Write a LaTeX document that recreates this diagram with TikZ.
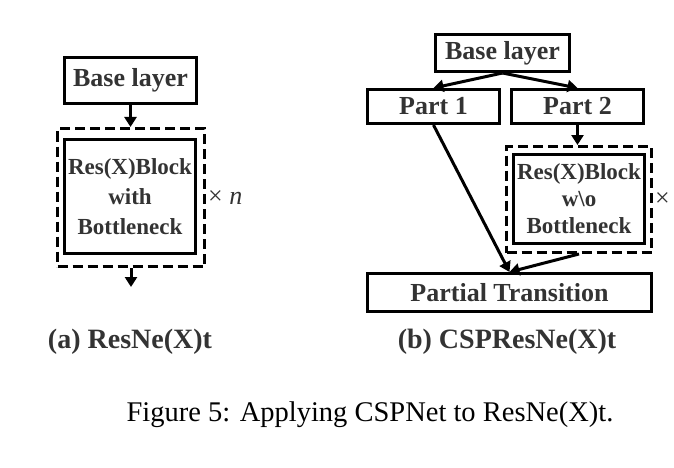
\documentclass[tikz,border=0pt]{standalone}
\usepackage{fontspec}
\setmainfont{Liberation Serif}
\usetikzlibrary{arrows.meta, positioning}
\definecolor{txtgray}{HTML}{333333}
\newcommand{\boxfont}{\fontsize{26}{30}\selectfont\bfseries}
\newcommand{\blockfont}[1]{\fontsize{23}{#1}\selectfont\bfseries}

\begin{document}
\begin{tikzpicture}[x=1pt, y=-1pt,
    layer/.style={draw, line width=3pt, inner sep=0pt, align=center,
        text=txtgray, font=\boxfont},
    repeatbox/.style={draw, line width=3pt, dash pattern=on 10pt off 5pt,
        inner sep=0pt},
    flow/.style={line width=3pt, -{Triangle[length=10pt,width=12pt]}},
    times/.style={inner sep=0pt, text=txtgray, font=\fontsize{26}{30}\selectfont},
    subcap/.style={text=txtgray, font=\fontsize{28}{32}\selectfont\bfseries},
]
\clip (0,0) rectangle (674,468);

% (a) ResNe(X)t
\node (baseA) [layer, minimum width=132pt, minimum height=46pt] at (130.5,80.5) {Base layer};
\node (blockA) [layer, minimum width=131pt, minimum height=114pt, font=\blockfont{30}]
    at (130,196.5) {Res(X)Block\\with\\Bottleneck};
\node (dashA) [repeatbox, minimum width=147pt, minimum height=138pt] at (131,197.5) {};
\node (timesA) [times, right=2pt of dashA] {× \textit{n}};
\coordinate (outA) at (131,287);

\draw [flow] (baseA.south) -- (baseA.south |- dashA.north);
\draw [flow] (dashA.south) -- (outA);

% (b) CSPResNe(X)t
\node (baseB) [layer, minimum width=134pt, minimum height=37pt] at (502.5,53) {Base layer};
\node (part1) [layer, minimum width=132pt, minimum height=34pt] at (433.5,106.5) {Part 1};
\node (part2) [layer, minimum width=132pt, minimum height=34pt] at (577.5,106.5) {Part 2};
\node (blockB) [layer, minimum width=131pt, minimum height=89pt, font=\blockfont{27}]
    at (579,199) {Res(X)Block\\w\textbackslash o\\Bottleneck};
\node (dashB) [repeatbox, minimum width=145pt, minimum height=106pt] at (579,199.5) {};
\node (timesB) [times, right=2pt of dashB] {× \textit{n}};
\node (trans) [layer, minimum width=284pt, minimum height=38pt] at (509.5,292.5) {Partial Transition};

\draw [flow] (baseB.south) -- (part1.north);
\draw [flow] (baseB.south) -- (part2.north);
\draw [flow] (part2.south) -- (part2.south |- dashB.north);
\draw [flow] (part1.south) -- (trans.north);
\draw [flow] (dashB.south) -- (trans.north);

% captions
\node (capA) [subcap] at (130,342) {(a) ResNe(X)t};
\node (capB) [subcap] at (507,342) {(b) CSPResNe(X)t};
\node (figcap) [font=\fontsize{28.5}{32}\selectfont] at (370,415) {Figure 5: Applying CSPNet to ResNe(X)t.};
\end{tikzpicture}
\end{document}
